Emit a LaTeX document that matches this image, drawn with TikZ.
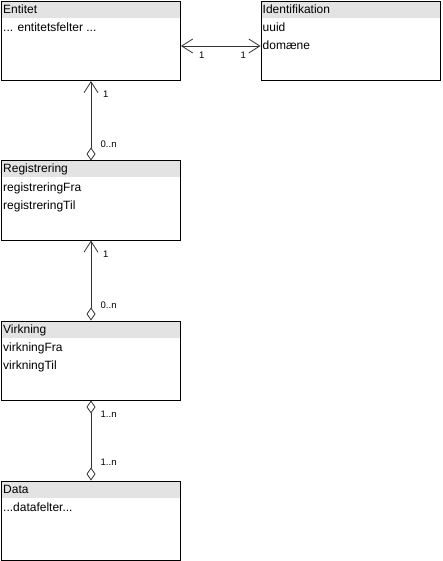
\documentclass[tikz,border=0pt]{standalone}
\usepackage{fontspec}
\setmainfont{Liberation Sans}
\usetikzlibrary{arrows.meta}

\begin{document}
\begin{tikzpicture}[x=1pt,y=-1pt,
		klasse/.style={draw,line width=1pt,anchor=north west,minimum width=179pt,minimum height=79pt,inner sep=0pt,
			path picture={\fill[gray!22] (path picture bounding box.north west) rectangle ([yshift=-16.5pt]path picture bounding box.north east);}},
		tekst/.style={anchor=base west,inner sep=0pt,font=\fontsize{12}{14}\selectfont},
		mult/.style={anchor=base west,inner sep=0pt,font=\fontsize{9.5}{11}\selectfont},
		assoc/.style={line width=0.8pt,black!80},
		pil/.tip={Straight Barb[length=11pt,width=14pt,line width=0.8pt]},
		rude/.tip={Diamond[open,length=13pt,width=9pt,line width=0.8pt]}]
			\useasboundingbox (0,0) rectangle (442,561);
			\node[klasse] (ent) at (1,1) {};
			\node[klasse] (id) at (260.5,1) {};
			\node[klasse] (reg) at (1,160.5) {};
			\node[klasse] (virk) at (1,320.5) {};
			\node[klasse] (data) at (1,480.5) {};
			\node[tekst] (ent-navn) at ([xshift=2pt,yshift=-12.5pt]ent.north west) {Entitet};
			\node[tekst] (ent-felt) at ([xshift=2pt,yshift=-31pt]ent.north west) {... entitetsfelter ...};
			\node[tekst] (id-navn) at ([xshift=2pt,yshift=-12.5pt]id.north west) {Identifikation};
			\node[tekst] (id-uuid) at ([xshift=2pt,yshift=-31pt]id.north west) {uuid};
			\node[tekst] (id-dom) at ([xshift=2pt,yshift=-48.5pt]id.north west) {domæne};
			\node[tekst] (reg-navn) at ([xshift=2pt,yshift=-12.5pt]reg.north west) {Registrering};
			\node[tekst] (reg-fra) at ([xshift=2pt,yshift=-31pt]reg.north west) {registreringFra};
			\node[tekst] (reg-til) at ([xshift=2pt,yshift=-48.5pt]reg.north west) {registreringTil};
			\node[tekst] (virk-navn) at ([xshift=2pt,yshift=-12.5pt]virk.north west) {Virkning};
			\node[tekst] (virk-fra) at ([xshift=2pt,yshift=-31pt]virk.north west) {virkningFra};
			\node[tekst] (virk-til) at ([xshift=2pt,yshift=-48.5pt]virk.north west) {virkningTil};
			\node[tekst] (data-navn) at ([xshift=2pt,yshift=-12.5pt]data.north west) {Data};
			\node[tekst] (data-felt) at ([xshift=2pt,yshift=-31pt]data.north west) {...datafelter...};
			\draw[assoc,pil-pil] ([yshift=-5pt]ent.east) -- ([yshift=-5pt]id.west);
			\draw[assoc,pil-rude] (ent.south) -- (reg.north);
			\draw[assoc,pil-rude] (reg.south) -- (virk.north);
			\draw[assoc,rude-rude] (virk.south) -- (data.north);
			\node[mult] (ent-id-1) at ([xshift=18pt,yshift=-17.5pt]ent.east) {1};
			\node[mult] (id-ent-1) at ([xshift=-20pt,yshift=-17.5pt]id.west) {1};
			\node[mult] (ent-reg-1) at ([xshift=12pt,yshift=-17pt]ent.south) {1};
			\node[mult] (reg-ent-n) at ([xshift=9.5pt,yshift=12.5pt]reg.north) {0..n};
			\node[mult] (reg-virk-1) at ([xshift=12pt,yshift=-17pt]reg.south) {1};
			\node[mult] (virk-reg-n) at ([xshift=9.5pt,yshift=12.5pt]virk.north) {0..n};
			\node[mult] (virk-data-n) at ([xshift=9.5pt,yshift=-17pt]virk.south) {1..n};
			\node[mult] (data-virk-n) at ([xshift=9.5pt,yshift=15.5pt]data.north) {1..n};
		\end{tikzpicture}
\end{document}
